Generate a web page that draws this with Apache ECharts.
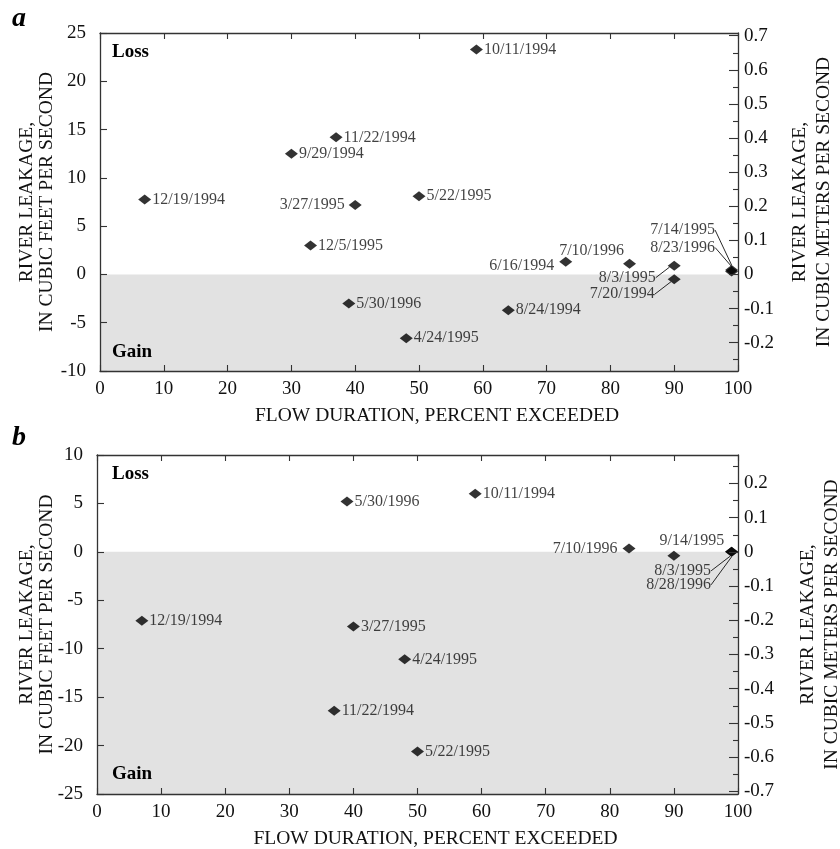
<!DOCTYPE html>
<html>
<head>
<meta charset="utf-8">
<script src="https://cdn.jsdelivr.net/npm/echarts@6/dist/echarts.min.js"></script>
<style>
html,body{margin:0;padding:0;background:#fff;}
#chart{width:840px;height:849px;}
</style>
</head>
<body>
<div id="chart"></div>
<script>
// ---------- data ----------
const CFS_TO_CMS = 0.0283168;

const datesA = ['12/19/1994','9/29/1994','11/22/1994','3/27/1995','12/5/1995','5/30/1996','4/24/1995','5/22/1995','10/11/1994','8/24/1994','6/16/1994','7/10/1996','8/3/1995','7/20/1994','7/14/1995','8/23/1996'];
const flowA  = [7, 30, 37, 40, 33, 39, 48, 50, 59, 64, 73, 83, 90, 90, 99, 99];
const leakA  = [7.75, 12.5, 14.2, 7.2, 3.0, -3.0, -6.6, 8.1, 23.3, -3.7, 1.3, 1.1, 0.9, -0.5, 0.45, 0.3];

const datesB = ['12/19/1994','11/22/1994','3/27/1995','5/30/1996','4/24/1995','5/22/1995','10/11/1994','7/10/1996','9/14/1995','8/3/1995','8/28/1996'];
const flowB  = [7, 37, 40, 39, 48, 50, 59, 83, 90, 99, 99];
const leakB  = [-7.1, -16.4, -7.7, 5.2, -11.1, -20.6, 6.0, 0.35, -0.4, 0.0, 0.0];

const xTicks = [0,10,20,30,40,50,60,70,80,90,100];
const leftRangeA = [-10, 25];
const leftRangeB = [-25, 10];
const rightMajorA = [-0.2,-0.1,0,0.1,0.2,0.3,0.4,0.5,0.6,0.7];
const rightMinorA = [-0.25,-0.15,-0.05,0.05,0.15,0.25,0.35,0.45,0.55,0.65];
const rightMajorB = [-0.7,-0.6,-0.5,-0.4,-0.3,-0.2,-0.1,0,0.1,0.2];
const rightMinorB = [-0.65,-0.55,-0.45,-0.35,-0.25,-0.15,-0.05,0.05,0.15,0.25];

// ---------- label placement (style only) ----------
const placeA = {
  '3/27/1995': {position:'left', dx:-3, dy:0},
  '6/16/1994': {position:'left', dx:-4, dy:4},
  '7/10/1996': {position:'left', dx:2, dy:-13},
  '8/3/1995':  {position:'left', dx:-11, dy:12, line:true},
  '7/20/1994': {position:'left', dx:-12, dy:15, line:true},
  '7/14/1995': {position:'left', dx:-9, dy:-40, line:true},
  '8/23/1996': {position:'left', dx:-9, dy:-24, line:true}
};
const placeB = {
  '7/10/1996': {position:'left', dx:-4, dy:0},
  '9/14/1995': {position:'top', dx:18, dy:-1},
  '8/3/1995':  {position:'left', dx:-13, dy:19, line:true},
  '8/28/1996': {position:'left', dx:-13, dy:33, line:true}
};

const FONT = 'Liberation Serif';
const INK = '#111';
const AXIS = '#333';
const GRAY = '#e2e2e2';

function buildData(dates, flow, leak, place){
  return dates.map((d,i)=>{
    const p = place[d] || {position:'right', dx:0, dy:0};
    const item = {name:d, value:[flow[i], leak[i]], label:{position:p.position}};
    if (p.line) item.labelLine = {show:true, lineStyle:{color:INK, width:0.9}};
    return item;
  });
}
const dataA = buildData(datesA, flowA, leakA, placeA);
const dataB = buildData(datesB, flowB, leakB, placeB);
const placeBySeries = {1: [datesA, placeA], 3: [datesB, placeB]};

function fmtR(v){ return Math.abs(v) < 1e-9 ? '0' : v.toFixed(1); }

const tickLabel = {fontFamily:FONT, fontSize:19, color:INK};
const titleStyle = {fontFamily:FONT, fontSize:19.5, color:INK, lineHeight:20};

function xAxes(gi){
  return [
    {gridIndex:gi, type:'value', position:'bottom', min:xTicks[0], max:xTicks[xTicks.length-1], interval:10, z:10,
     axisLine:{show:true, onZero:false, lineStyle:{color:AXIS, width:1.3}},
     axisTick:{show:true, inside:true, length:6, lineStyle:{color:AXIS, width:1.1}},
     axisLabel:Object.assign({margin:9}, tickLabel),
     splitLine:{show:false},
     name:'FLOW DURATION, PERCENT EXCEEDED', nameLocation:'middle', nameGap:35, nameMoveOverlap:false,
     nameTextStyle:Object.assign({padding:[0,0,0,36]}, titleStyle)},
    {gridIndex:gi, type:'value', position:'top', min:xTicks[0], max:xTicks[xTicks.length-1], interval:10, z:10,
     axisLine:{show:true, onZero:false, lineStyle:{color:AXIS, width:1.3}},
     axisTick:{show:true, inside:true, length:6, lineStyle:{color:AXIS, width:1.1}},
     axisLabel:{show:false}, splitLine:{show:false}}
  ];
}
function yAxes(gi, range, major, minor, leftGap, rightGap){
  const rmin = range[0]*CFS_TO_CMS, rmax = range[1]*CFS_TO_CMS;
  return [
    {gridIndex:gi, type:'value', position:'left', min:range[0], max:range[1], interval:5, z:10,
     axisLine:{show:true, onZero:false, lineStyle:{color:AXIS, width:1.3}},
     axisTick:{show:true, inside:true, length:7, lineStyle:{color:AXIS, width:1.1}},
     axisLabel:Object.assign({margin:14}, tickLabel),
     splitLine:{show:false},
     name:'RIVER LEAKAGE,\nIN CUBIC FEET PER SECOND', nameLocation:'middle', nameRotate:90, nameGap:leftGap, nameMoveOverlap:false,
     nameTextStyle:titleStyle},
    {gridIndex:gi, type:'value', position:'right', min:rmin, max:rmax, z:10,
     axisLine:{show:true, onZero:false, lineStyle:{color:AXIS, width:1.3}},
     axisTick:{show:true, inside:true, length:9, customValues:major, lineStyle:{color:AXIS, width:1.1}},
     axisLabel:Object.assign({margin:6, customValues:major, formatter:fmtR}, tickLabel),
     splitLine:{show:false},
     name:'RIVER LEAKAGE,\nIN CUBIC METERS PER SECOND', nameLocation:'middle', nameRotate:90, nameGap:rightGap, nameMoveOverlap:false,
     nameTextStyle:Object.assign({}, titleStyle, {lineHeight:24})},
    {gridIndex:gi, type:'value', position:'right', min:rmin, max:rmax, z:10,
     axisLine:{show:false, onZero:false},
     axisTick:{show:true, inside:true, length:5, customValues:minor, lineStyle:{color:AXIS, width:1.1}},
     axisLabel:{show:false}, splitLine:{show:false}}
  ];
}

function grayArea(xi, yi, range){
  return {type:'scatter', xAxisIndex:xi, yAxisIndex:yi, data:[], z:1, silent:true,
    markArea:{silent:true, itemStyle:{color:GRAY},
      data:[[{xAxis:xTicks[0], yAxis:0},{xAxis:xTicks[xTicks.length-1], yAxis:range[0]}]]}};
}
function points(xi, yi, data){
  return {type:'scatter', xAxisIndex:xi, yAxisIndex:yi, data:data, z:5,
    symbol:'diamond', symbolSize:[13,10], itemStyle:{color:'#000'},
    label:{show:true, formatter:'{b}', distance:1, fontFamily:FONT, fontSize:16, color:INK},
    labelLine:{show:false},
    labelLayout:function(params){
      const e = placeBySeries[params.seriesIndex];
      if (!e) return {};
      const p = e[1][e[0][params.dataIndex]];
      return p ? {dx:p.dx, dy:p.dy} : {};
    }};
}

const option = {
  backgroundColor:'#fff',
  animation:false,
  grid:[
    {left:100, top:33, width:638, height:338, outerBoundsMode:'none', containLabel:false},
    {left:97, top:455, width:641, height:339, outerBoundsMode:'none', containLabel:false}
  ],
  xAxis: xAxes(0).concat(xAxes(1)),
  yAxis: yAxes(0, leftRangeA, rightMajorA, rightMinorA, 43, 50).concat(yAxes(1, leftRangeB, rightMajorB, rightMinorB, 40, 58)),
  series:[
    grayArea(0,0,leftRangeA),
    points(0,0,dataA),
    grayArea(2,3,leftRangeB),
    points(2,3,dataB)
  ],
  graphic:[
    {type:'text', left:12, top:5, z:100, style:{text:'a', font:'italic bold 28px "Liberation Serif"', fill:'#000'}},
    {type:'text', left:12, top:424, z:100, style:{text:'b', font:'italic bold 28px "Liberation Serif"', fill:'#000'}},
    {type:'text', x:112, y:52, z:100, style:{text:'Loss', font:'bold 19px "Liberation Serif"', fill:'#000', textVerticalAlign:'middle'}},
    {type:'text', x:112, y:352, z:100, style:{text:'Gain', font:'bold 19px "Liberation Serif"', fill:'#000', textVerticalAlign:'middle'}},
    {type:'text', x:112, y:474, z:100, style:{text:'Loss', font:'bold 19px "Liberation Serif"', fill:'#000', textVerticalAlign:'middle'}},
    {type:'text', x:112, y:774, z:100, style:{text:'Gain', font:'bold 19px "Liberation Serif"', fill:'#000', textVerticalAlign:'middle'}}
  ]
};

const chart = echarts.init(document.getElementById('chart'), null, {renderer:'canvas'});
chart.setOption(option);
</script>
</body>
</html>
